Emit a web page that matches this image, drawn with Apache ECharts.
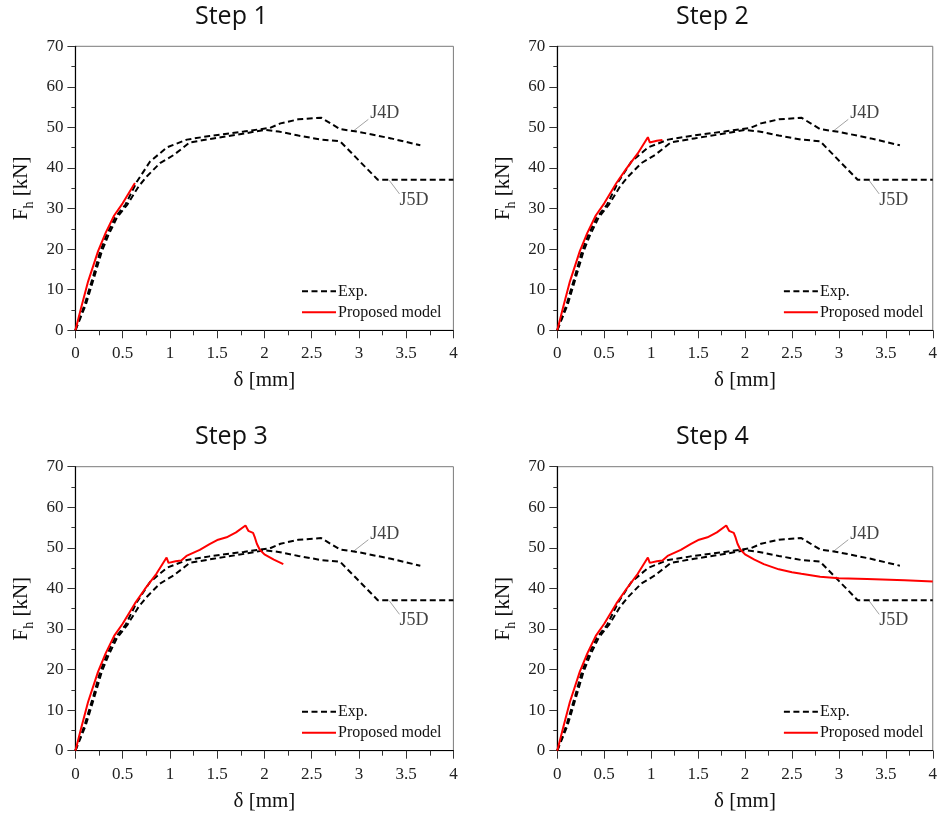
<!DOCTYPE html>
<html><head><meta charset="utf-8">
<script src="https://cdn.jsdelivr.net/npm/echarts/dist/echarts.min.js"></script>
<style>html,body{margin:0;padding:0;background:#fff}#c{width:940px;height:814px}</style>
</head><body><div id="c"></div>
<script>
// ---------- data ----------
const stepTitles = ['Step 1', 'Step 2', 'Step 3', 'Step 4'];
const xMin = 0, xMax = 4, xInterval = 0.5;
const yMin = 0, yMax = 70, yInterval = 10;
const expName = 'Exp.';
const modelName = 'Proposed model';

// experimental curve J4D  [δ mm, Fh kN]
const expJ4D = [[0,0],[0.10,6.5],[0.19,13.5],[0.26,19.3],[0.33,23.5],[0.42,27.8],[0.53,31.0],[0.65,36.6],
  [0.79,41.6],[0.97,45.1],[1.18,47.0],[1.42,47.9],[1.78,49.0],[2.06,49.9],[2.17,51.0],[2.36,52.0],
  [2.60,52.4],[2.80,49.6],[3.00,48.9],[3.34,47.3],[3.65,45.6]];
// experimental curve J5D
const expJ5D = [[0,0],[0.11,6.3],[0.20,13.2],[0.28,19.5],[0.35,23.5],[0.44,27.8],[0.55,31.0],[0.67,35.5],
  [0.755,37.9],[0.895,41.2],[1.04,43.2],[1.21,46.3],[1.46,47.3],[1.81,48.6],[2.00,49.4],[2.15,49.0],
  [2.36,48.0],[2.60,47.0],[2.80,46.6],[2.96,42.8],[3.20,37.1],[4.00,37.1]];
// proposed model (full analysis); each step shows the part up to modelEnd
const modelCurve = [[0,0],[0.06,5.5],[0.134,12.0],[0.24,19.5],[0.32,24.0],[0.41,28.3],[0.50,31.3],[0.63,36.3],
  [0.734,39.8],[0.857,43.6],[0.965,47.6],[0.985,46.3],[1.0,46.0],[1.06,46.7],[1.12,46.9],[1.175,48.0],
  [1.316,49.5],[1.42,50.9],[1.51,52.0],[1.60,52.6],[1.70,53.8],[1.80,55.5],[1.83,54.2],[1.88,53.7],
  [1.90,52.5],[1.92,51.0],[1.95,49.6],[2.00,48.4],[2.10,47.1],[2.20,46.0],[2.36,44.7],[2.50,44.0],
  [2.60,43.6],[2.80,42.9],[3.00,42.5],[3.30,42.3],[3.70,42.0],[4.00,41.7]];
const modelEnd = [0.64, 1.13, 2.2, 4.0];

// annotations
const annLabels = ['J4D', 'J5D'];
const annTextAt = [[3.12, 53.4], [3.43, 32.1]];
const leaderJ4D = [[2.94, 49.1], [3.10, 52.0]];
const leaderJ5D = [[3.32, 37.0], [3.43, 33.6]];

// ---------- layout ----------
const gridLeft = [75.4, 557.3, 75.4, 557.3];
const gridTop = [46.3, 46.3, 466.7, 466.7];
const gridW = 378, gridH = 284;
const titleCx = [231, 712, 231, 712];

const serif = 'Liberation Serif';
const option = {
  backgroundColor: '#fff',
  animation: false,
  title: [], grid: [], xAxis: [], yAxis: [], legend: [], series: []
};

for (let i = 0; i < 4; i++) {
  option.title.push({
    text: stepTitles[i], left: titleCx[i] - 36, top: gridTop[i] - 42, padding: 0,
    textStyle: { fontFamily: 'Open Sans', fontSize: 25, fontWeight: 'normal', color: '#111' }
  });
  option.grid.push({
    left: gridLeft[i], top: gridTop[i], width: gridW, height: gridH,
    show: true, borderColor: '#7a7a7a', borderWidth: 1, backgroundColor: 'transparent'
  });
  option.xAxis.push({
    type: 'value', gridIndex: i, min: xMin, max: xMax, interval: xInterval,
    name: 'δ [mm]', nameLocation: 'middle', nameGap: 40,
    nameTextStyle: { fontFamily: serif, fontSize: 21, color: '#111' },
    axisLine: { show: true, onZero: false, lineStyle: { color: '#000', width: 1.2 } },
    axisTick: { show: true, length: 8, lineStyle: { color: '#333' } },
    minorTick: { show: true, splitNumber: 2, length: 5, lineStyle: { color: '#333' } },
    splitLine: { show: false }, minorSplitLine: { show: false },
    axisLabel: { fontFamily: serif, fontSize: 17, color: '#222', margin: 15 }
  });
  option.yAxis.push({
    type: 'value', gridIndex: i, min: yMin, max: yMax, interval: yInterval,
    name: '{f|F}{s|h}{f| [kN]}', nameLocation: 'middle', nameGap: 39,
    nameTextStyle: {
      fontFamily: serif, color: '#111',
      rich: {
        f: { fontFamily: serif, fontSize: 21, lineHeight: 30, color: '#111' },
        s: { fontFamily: serif, fontSize: 14, lineHeight: 12, verticalAlign: 'bottom', color: '#111' }
      }
    },
    axisLine: { show: true, onZero: false, lineStyle: { color: '#000', width: 1.2 } },
    axisTick: { show: true, length: 8, lineStyle: { color: '#333' } },
    minorTick: { show: true, splitNumber: 2, length: 4, lineStyle: { color: '#333' } },
    splitLine: { show: false }, minorSplitLine: { show: false },
    axisLabel: { fontFamily: serif, fontSize: 17, color: '#222', margin: 12 }
  });
  option.legend.push({
    orient: 'vertical', padding: 0,
    left: gridLeft[i] + 225.6, top: gridTop[i] + 237,
    itemWidth: 34, itemHeight: 14, itemGap: 5,
    itemStyle: { opacity: 0 },
    data: [expName, modelName],
    textStyle: { fontFamily: serif, fontSize: 16, color: '#111', padding: [0, 0, 0, -3] },
    selectedMode: false
  });
  const dashed = { color: '#000', width: 2, type: [6, 3.5] };
  option.series.push({
    type: 'line', name: expName, xAxisIndex: i, yAxisIndex: i, data: expJ4D,
    symbol: 'none', lineStyle: dashed, itemStyle: { color: '#000' }, z: 3
  });
  option.series.push({
    type: 'line', name: expName, xAxisIndex: i, yAxisIndex: i, data: expJ5D,
    symbol: 'none', lineStyle: dashed, itemStyle: { color: '#000' }, z: 3
  });
  option.series.push({
    type: 'line', name: modelName, xAxisIndex: i, yAxisIndex: i,
    data: modelCurve.filter(p => p[0] <= modelEnd[i] + 1e-9),
    symbol: 'none', lineStyle: { color: '#ff0000', width: 2, type: 'solid' },
    itemStyle: { color: '#ff0000' }, z: 4
  });
  [leaderJ4D, leaderJ5D].forEach(ld => option.series.push({
    type: 'line', xAxisIndex: i, yAxisIndex: i, data: ld, symbol: 'none', silent: true,
    lineStyle: { color: '#8a8a8a', width: 0.8 }, z: 2
  }));
  option.series.push({
    type: 'scatter', xAxisIndex: i, yAxisIndex: i, symbolSize: 0, silent: true,
    data: annTextAt.map((p, k) => ({ value: p, name: annLabels[k] })),
    label: { show: true, position: 'right', distance: 0, formatter: p => p.name,
      fontFamily: serif, fontSize: 18, color: '#111' }
  });
}

const chart = echarts.init(document.getElementById('c'), null, { renderer: 'canvas' });
chart.setOption(option);
</script></body></html>
